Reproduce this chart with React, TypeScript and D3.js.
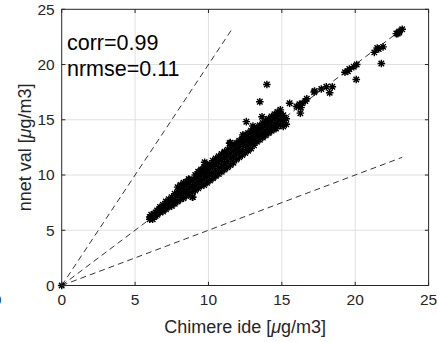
import React, { useEffect, useRef } from 'react';
import * as d3 from 'd3';

const xTicks = [0, 5, 10, 15, 20, 25];
const yTicks = [0, 5, 10, 15, 20, 25];

// dense band of points (chimere ide, nnet val)
const bandPoints: [number, number][] = [
  [6.0, 6.0], [6.0, 6.2], [6.1, 6.1], [6.1, 6.4], [6.2, 6.0], [6.2, 6.3],
  [6.3, 6.2], [6.3, 6.5], [6.4, 6.3], [6.4, 6.6], [6.5, 6.4], [6.5, 6.8], [6.5, 6.6],
  [6.7, 6.6], [6.7, 6.9], [6.7, 7.1], [6.9, 6.7], [6.9, 7.0], [6.9, 7.3],
  [7.1, 6.9], [7.1, 7.2], [7.1, 7.6], [7.3, 7.1], [7.3, 7.5], [7.3, 7.8],
  [7.5, 7.2], [7.5, 7.6], [7.5, 8.0], [7.7, 7.4], [7.7, 7.8], [7.7, 8.3],
  [7.9, 7.6], [7.9, 8.1], [7.9, 8.5], [7.9, 8.9], [8.1, 7.8], [8.1, 8.3], [8.1, 8.7], [8.1, 9.1],
  [8.3, 7.9], [8.3, 8.5], [8.3, 8.9], [8.3, 9.3], [8.5, 8.1], [8.5, 8.6], [8.5, 9.1], [8.5, 9.4],
  [8.7, 8.3], [8.7, 8.8], [8.7, 9.3], [8.7, 9.6], [8.9, 8.0], [8.9, 8.5], [8.9, 9.0], [8.9, 9.5],
  [9.1, 8.6], [9.1, 9.1], [9.1, 9.6], [9.1, 10.0], [9.3, 8.8], [9.3, 9.3], [9.3, 9.8], [9.3, 10.3],
  [9.5, 9.0], [9.5, 9.5], [9.5, 10.0], [9.5, 10.5], [9.7, 9.1], [9.7, 9.7], [9.7, 10.2], [9.7, 10.7],
  [9.9, 9.3], [9.9, 9.9], [9.9, 10.4], [9.9, 10.9], [10.1, 9.5], [10.1, 10.1], [10.1, 10.6], [10.1, 11.0],
  [10.3, 9.7], [10.3, 10.2], [10.3, 10.8], [10.3, 11.3], [10.5, 9.9], [10.5, 10.4], [10.5, 11.0], [10.5, 11.5],
  [10.7, 10.1], [10.7, 10.6], [10.7, 11.2], [10.7, 11.7], [10.9, 10.3], [10.9, 10.8], [10.9, 11.4], [10.9, 11.9],
  [11.1, 10.5], [11.1, 11.0], [11.1, 11.6], [11.1, 12.1], [11.3, 10.7], [11.3, 11.2], [11.3, 11.8], [11.3, 12.3],
  [11.5, 10.9], [11.5, 11.5], [11.5, 12.0], [11.5, 12.5], [11.7, 11.1], [11.7, 11.7], [11.7, 12.2], [11.7, 12.7],
  [11.9, 11.4], [11.9, 11.9], [11.9, 12.4], [11.9, 12.9], [12.1, 11.6], [12.1, 12.1], [12.1, 12.6], [12.1, 13.1],
  [12.3, 11.8], [12.3, 12.3], [12.3, 12.9], [12.3, 13.3], [12.5, 12.0], [12.5, 12.6], [12.5, 13.1], [12.5, 13.6],
  [12.7, 12.2], [12.7, 12.8], [12.7, 13.3], [12.7, 13.8], [12.9, 12.4], [12.9, 13.0], [12.9, 13.5], [12.9, 14.0],
  [13.1, 12.7], [13.1, 13.2], [13.1, 13.7], [13.1, 14.2], [13.3, 13.0], [13.3, 13.5], [13.3, 13.9], [13.3, 14.3],
  [13.5, 13.2], [13.5, 13.6], [13.5, 14.1], [13.5, 14.5], [13.7, 13.4], [13.7, 13.8], [13.7, 14.3], [13.7, 14.7],
  [13.9, 13.6], [13.9, 14.0], [13.9, 14.5], [13.9, 14.9], [14.1, 13.8], [14.1, 14.2], [14.1, 14.7], [14.1, 15.1],
  [14.3, 14.0], [14.3, 14.4], [14.3, 14.9], [14.3, 15.3], [14.5, 14.2], [14.5, 14.6], [14.5, 15.1], [14.5, 15.5],
  [14.7, 14.4], [14.7, 14.8], [14.7, 15.3], [14.7, 15.7], [14.9, 14.5], [14.9, 15.0], [14.9, 15.5], [14.9, 15.9],
  [15.1, 14.4], [15.1, 14.9], [15.1, 15.4], [15.3, 14.6], [15.3, 15.1],
];

// scattered points around the band
const loosePoints: [number, number][] = [
  [0, 0], [8.65, 9.63], [8.94, 8.0], [9.35, 10.23], [9.74, 11.16], [11.1, 12.0], [11.44, 12.88],
  [11.49, 12.93], [12.4, 13.5], [12.35, 13.63], [12.58, 14.83], [13.03, 14.44], [13.5, 16.63],
  [13.65, 15.28], [13.98, 18.2], [14.6, 14.2], [15.08, 15.4], [15.53, 16.5],
];

// high concentration points
const highPoints: [number, number][] = [
  [16.0, 16.2], [16.2, 16.4], [16.4, 16.5], [16.6, 16.7], [16.3, 16.1], [16.7, 16.9], [16.26, 15.6],
  [17.2, 17.5], [17.23, 17.6], [17.69, 17.78], [18.03, 17.99], [18.44, 17.99], [18.26, 17.45],
  [19.3, 19.3], [19.5, 19.4], [19.6, 19.6], [19.9, 19.8], [20.1, 20.0], [20.07, 18.65],
  [21.3, 21.1], [21.5, 21.5], [21.6, 21.4], [21.9, 21.6], [21.78, 20.1],
  [22.8, 22.8], [22.9, 22.8], [23.0, 22.9], [23.0, 23.0], [23.2, 23.2],
];

const refSlopes = [2, 1, 0.5];
const statLabels = ['corr=0.99', 'nrmse=0.11'];

const W = 438;
const H = 342;
const FONT = '"Liberation Sans", Arial, Helvetica, sans-serif';
const AX = '#262626';

const App = () => {
  const ref = useRef<SVGSVGElement | null>(null);

  useEffect(() => {
    const svg = d3.select(ref.current);
    svg.selectAll('*').remove();

    const x = d3.scaleLinear().domain([0, 25]).range([61.7, 428.6]);
    const y = d3.scaleLinear().domain([0, 25]).range([285.5, 9.3]);

    // grid
    const grid = svg.append('g').attr('stroke', '#dfdfdf').attr('stroke-width', 1);
    xTicks.slice(1, -1).forEach(t => {
      grid.append('line').attr('x1', x(t)).attr('x2', x(t)).attr('y1', y(0)).attr('y2', y(25));
    });
    yTicks.slice(1, -1).forEach(t => {
      grid.append('line').attr('x1', x(0)).attr('x2', x(25)).attr('y1', y(t)).attr('y2', y(t));
    });

    // reference lines
    const all = [...bandPoints, ...loosePoints, ...highPoints];
    const m = d3.max(all, d => d[0]) as number;
    refSlopes.forEach(s => {
      const xe = Math.min(m, m / s);
      svg.append('line')
        .attr('x1', x(0)).attr('y1', y(0))
        .attr('x2', x(xe)).attr('y2', y(xe * s))
        .attr('stroke', '#000')
        .attr('stroke-width', 0.8)
        .attr('stroke-dasharray', '6,4');
    });

    // asterisk markers
    const r = 3.8;
    const a = r * 0.72;
    const star = `M${-r},0L${r},0M0,${-r}L0,${r}M${-a},${-a}L${a},${a}M${-a},${a}L${a},${-a}`;
    svg.append('g')
      .selectAll('path')
      .data(all)
      .enter().append('path')
      .attr('transform', d => `translate(${x(d[0])},${y(d[1])})`)
      .attr('d', star)
      .attr('fill', 'none')
      .attr('stroke', '#000')
      .attr('stroke-width', 1.4);

    // axes box and ticks
    const box = svg.append('g').attr('stroke', AX).attr('stroke-width', 1).attr('fill', 'none');
    box.append('rect')
      .attr('x', x(0)).attr('y', y(25))
      .attr('width', x(25) - x(0)).attr('height', y(0) - y(25));
    const tl = 3.7;
    xTicks.forEach(t => {
      box.append('line').attr('x1', x(t)).attr('x2', x(t)).attr('y1', y(0)).attr('y2', y(0) - tl);
      box.append('line').attr('x1', x(t)).attr('x2', x(t)).attr('y1', y(25)).attr('y2', y(25) + tl);
    });
    yTicks.forEach(t => {
      box.append('line').attr('x1', x(0)).attr('x2', x(0) + tl).attr('y1', y(t)).attr('y2', y(t));
      box.append('line').attr('x1', x(25)).attr('x2', x(25) - tl).attr('y1', y(t)).attr('y2', y(t));
    });

    // tick labels
    const labels = svg.append('g').attr('font-family', FONT).attr('font-size', 15.5).attr('fill', AX);
    xTicks.forEach(t => {
      labels.append('text').attr('x', x(t)).attr('y', y(0) + 19)
        .attr('text-anchor', 'middle').text(t);
    });
    yTicks.forEach(t => {
      labels.append('text').attr('x', x(0) - 7).attr('y', y(t)).attr('dy', '0.35em')
        .attr('text-anchor', 'end').text(t);
    });
    // label clipped at the left edge, as in the source figure
    labels.append('text').attr('x', -3).attr('y', y(0) + 19).attr('text-anchor', 'middle').text('0');

    // axis labels
    const xl = svg.append('text')
      .attr('x', (x(0) + x(25)) / 2).attr('y', 333)
      .attr('text-anchor', 'middle')
      .attr('font-family', FONT).attr('font-size', 18).attr('fill', AX);
    xl.append('tspan').text('Chimere ide [');
    xl.append('tspan').attr('font-style', 'italic').text('\u03bc');
    xl.append('tspan').text('g/m3]');

    const yl = svg.append('text')
      .attr('transform', `translate(31,${(y(0) + y(25)) / 2}) rotate(-90)`)
      .attr('text-anchor', 'middle')
      .attr('font-family', FONT).attr('font-size', 18).attr('fill', AX);
    yl.append('tspan').text('nnet val [');
    yl.append('tspan').attr('font-style', 'italic').text('\u03bc');
    yl.append('tspan').text('g/m3]');

    // stats text
    statLabels.forEach((s, i) => {
      svg.append('text')
        .attr('x', 67).attr('y', 50 + i * 26)
        .attr('font-family', FONT).attr('font-size', 21.5).attr('fill', '#000')
        .text(s);
    });
  }, []);

  return (
    <svg ref={ref} width={W} height={H}
      style={{ position: 'absolute', left: 0, top: 0, background: '#fff' }} />
  );
};

export default App;
